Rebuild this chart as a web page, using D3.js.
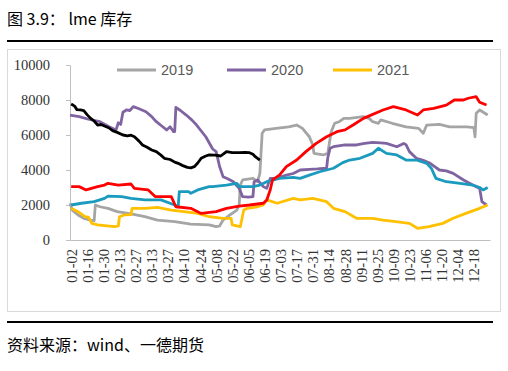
<!DOCTYPE html>
<html>
<head>
<meta charset="utf-8">
<script src="https://cdn.jsdelivr.net/npm/d3@7/dist/d3.min.js"></script>
<style>
  body { margin: 0; background: #fff; }
  .tick text { font-family: "Liberation Serif", "DejaVu Serif", serif; }
</style>
</head>
<body>
<script>
// x = day of year (0 = Jan 1), y = stock
var tickLabels = ["01-02","01-16","01-30","02-13","02-27","03-13","03-27","04-10","04-24","05-08",
  "05-22","06-05","06-19","07-03","07-17","07-31","08-14","08-28","09-11","09-25",
  "10-09","10-23","11-06","11-20","12-04","12-18"];
var yTicks = [0, 2000, 4000, 6000, 8000, 10000];

var s2019 = [[0,2100],[2,1710],[7,1430],[12,1240],[18,1140],[21,1100],[22,2000],[26,1900],[33,1810],[41,1620],
  [53,1490],[65,1330],[76,1140],[91,1050],[105,910],[121,860],[127,760],[130,800],[133,1140],[139,1430],
  [145,1710],[147,2000],[148,3140],[150,3430],[159,3520],[163,3330],[165,3810],[167,6100],[169,6290],[179,6380],
  [190,6470],[197,6570],[202,6380],[208,5900],[211,5430],[212,4950],[220,4860],[224,4950],[227,6190],[230,6670],
  [234,6760],[238,6950],[243,6950],[255,7050],[260,6950],[263,6760],[268,6670],[270,6860],[280,6670],[292,6470],
  [303,6380],[307,6100],[310,6570],[321,6610],[330,6470],[345,6470],[351,6420],[352,5900],[353,7240],[356,7430],[363,7140]];

var s2020 = [[0,7140],[8,7050],[16,6900],[26,6760],[34,6470],[40,6290],[42,6700],[44,6600],[46,7300],[49,7430],
  [52,7400],[55,7620],[60,7500],[66,7330],[71,7050],[75,6760],[80,6500],[84,6290],[87,6470],[90,6190],
  [91,6200],[92,7580],[96,7400],[101,7140],[106,6850],[110,6570],[118,5900],[124,5200],[127,5050],[130,4200],
  [133,3620],[137,3500],[142,3330],[147,2950],[150,2480],[155,2450],[159,2480],[160,3330],[163,3430],[168,3050],
  [171,2950],[174,3520],[178,3520],[182,3580],[188,3710],[194,3800],[200,4000],[208,4040],[215,4060],[223,4100],
  [224,4700],[226,5240],[229,5330],[239,5430],[249,5430],[256,5520],[263,5580],[270,5550],[275,5520],[284,5330],
  [290,5520],[292,5450],[295,5050],[301,4670],[307,4550],[313,4380],[321,4000],[327,3950],[333,3810],[342,3430],
  [350,3140],[356,2950],[358,2190],[362,2000]];

var s2021 = [[1,1810],[7,1620],[13,1330],[16,1300],[19,950],[24,860],[30,820],[39,760],[42,800],[43,1330],
  [47,1430],[53,1450],[54,1810],[65,1810],[76,1870],[88,1710],[99,1620],[111,1520],[121,1330],[133,1240],
  [140,1240],[141,860],[148,760],[151,1710],[154,1810],[163,1900],[168,2000],[171,2290],[180,2100],[194,2380],
  [200,2290],[211,2380],[223,2190],[229,1810],[239,1620],[249,1240],[263,1240],[272,1140],[283,1050],[295,950],
  [302,670],[312,760],[324,950],[333,1240],[344,1520],[356,1810],[363,2000]];

var sRed = [[1,3050],[8,3050],[14,2860],[24,3050],[30,3140],[33,3240],[42,3140],[53,3200],[56,2950],[68,2860],
  [74,2480],[88,2480],[92,1900],[105,1810],[114,1520],[127,1620],[136,1810],[147,1940],[156,2000],[168,2100],
  [171,2290],[174,2860],[176,3430],[182,3710],[188,4190],[197,4570],[205,5050],[214,5520],[223,5900],[232,6190],
  [239,6290],[246,6570],[255,6950],[272,7430],[281,7620],[292,7430],[302,7140],[307,7430],[316,7520],[327,7710],
  [334,8000],[342,8000],[346,8100],[353,8190],[356,7870],[362,7710]];

var sTeal = [[1,2000],[10,2100],[21,2190],[30,2380],[33,2510],[45,2480],[53,2380],[65,2290],[79,2290],[91,2000],
  [94,1900],[95,2760],[103,2760],[105,2670],[111,2860],[121,3050],[124,3050],[136,3140],[145,3240],[147,3050],
  [159,3050],[165,3140],[171,3330],[182,3520],[194,3580],[200,3520],[208,3710],[217,3900],[229,4100],[237,4420],
  [243,4570],[252,4670],[263,4950],[268,5240],[275,4950],[284,4860],[292,4570],[301,4570],[310,4380],[314,4100],
  [318,3520],[327,3330],[339,3240],[350,3140],[356,3000],[359,2860],[363,3000]];

var sBlack = [[1,7770],[4,7650],[6,7450],[9,7430],[12,7390],[15,7150],[18,6950],[21,6800],[24,6570],[27,6600],
  [30,6510],[34,6400],[37,6250],[41,6150],[46,6000],[50,5950],[53,5990],[56,5900],[60,5650],[63,5430],
  [67,5300],[71,5140],[75,5050],[79,4850],[82,4670],[87,4600],[91,4450],[94,4380],[98,4250],[102,4150],
  [105,4120],[108,4190],[111,4400],[114,4670],[118,4800],[121,4860],[126,4850],[131,4800],[134,4950],[136,5050],
  [141,4990],[147,4990],[152,5000],[156,4990],[159,4900],[161,4760],[165,4570]];

var series = [
  {name: "2019", data: s2019, color: "#A5A5A5", legend: true},
  {name: "2020", data: s2020, color: "#8064A2", legend: true},
  {name: "2021", data: s2021, color: "#FFC000", legend: true},
  {name: "teal", data: sTeal, color: "#1A9BBE", legend: false},
  {name: "red", data: sRed, color: "#FF0000", legend: false},
  {name: "black", data: sBlack, color: "#000000", legend: false}
];

var W = 508, H = 371;

var svg = d3.select("body").append("svg")
    .attr("width", W)
    .attr("height", H)
    .style("font-family", "'Noto Sans CJK SC', sans-serif");

// title and rules
svg.append("text").attr("x", 7).attr("y", 25)
    .attr("font-size", 16).attr("fill", "#000")
    .text("图 3.9： lme 库存");
svg.append("rect").attr("x", 7).attr("y", 40).attr("width", 486).attr("height", 2).attr("fill", "#000");
svg.append("rect").attr("x", 7.5).attr("y", 49.5).attr("width", 493).attr("height", 262)
    .attr("fill", "none").attr("stroke", "#D9D9D9");
svg.append("rect").attr("x", 7).attr("y", 321).attr("width", 486).attr("height", 2).attr("fill", "#000");
svg.append("text").attr("x", 7).attr("y", 351)
    .attr("font-size", 16).attr("fill", "#000")
    .text("资料来源：wind、一德期货");

var x = d3.scaleLinear().domain([0, 365]).range([70, 490]);
var y = d3.scaleLinear().domain([0, 10000]).range([240, 65]);

var parse = d3.timeParse("%Y-%m-%d");
function doy(lbl) {
  var d = parse("2021-" + lbl);
  return d3.timeDay.count(new Date(2021, 0, 1), d);
}

// y axis
var yAxis = svg.append("g")
    .attr("transform", "translate(70,0)")
    .call(d3.axisLeft(y).tickValues(yTicks).tickSize(4).tickPadding(16).tickFormat(d3.format("d")));
yAxis.select(".domain").attr("stroke", "#BFBFBF");
yAxis.selectAll(".tick line").attr("stroke", "#BFBFBF");
yAxis.selectAll("text")
    .style("font-size", "14.5px")
    .attr("fill", "#333");

// x axis
var xAxis = svg.append("g")
    .attr("transform", "translate(0,240)")
    .call(d3.axisBottom(x).tickValues(tickLabels.map(doy)).tickSize(0).tickSizeOuter(0)
      .tickFormat(function(d, i) { return tickLabels[i]; }));
xAxis.select(".domain").attr("stroke", "#BFBFBF");
xAxis.selectAll("text")
    .style("font-size", "14.5px")
    .attr("fill", "#333")
    .attr("text-anchor", "end")
    .attr("transform", "rotate(-90)")
    .attr("x", -9)
    .attr("y", 0)
    .attr("dy", "0.35em");

var line = d3.line()
    .x(function(d) { return x(d[0]); })
    .y(function(d) { return y(d[1]); });

svg.selectAll(".series").data(series).enter()
  .append("path")
    .attr("class", "series")
    .attr("d", function(d) { return line(d.data); })
    .attr("fill", "none")
    .attr("stroke", function(d) { return d.color; })
    .attr("stroke-width", 2.8)
    .attr("stroke-linejoin", "round");

// legend
var legX = [117, 227, 333];
var leg = svg.selectAll(".leg").data(series.filter(function(d) { return d.legend; })).enter()
  .append("g").attr("class", "leg")
  .attr("transform", function(d, i) { return "translate(" + legX[i] + ",70)"; });
leg.append("line").attr("x1", 0).attr("x2", 39).attr("y1", 0).attr("y2", 0)
    .attr("stroke", function(d) { return d.color; }).attr("stroke-width", 3);
leg.append("text").attr("x", 44).attr("y", 0).attr("dy", "0.35em")
    .attr("font-family", "'Liberation Sans', Arial, sans-serif")
    .attr("font-size", 14.5).attr("fill", "#595959")
    .text(function(d) { return d.name; });
</script>
</body>
</html>
